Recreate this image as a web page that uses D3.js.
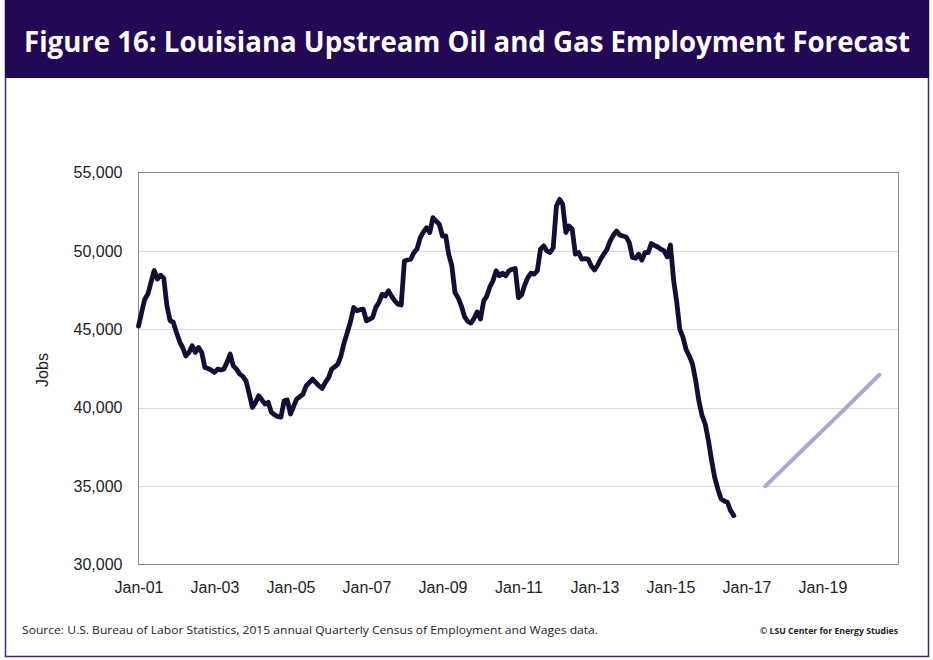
<!DOCTYPE html>
<html>
<head>
<meta charset="utf-8">
<script src="https://cdn.jsdelivr.net/npm/d3@7"></script>
<style>
  body { margin: 0; background: #fff; }
  svg { display: block; }
</style>
</head>
<body>
<script>
// monthly upstream oil & gas jobs, Jan 2001 .. Sep 2016
var firstMonth = "2001-01";
var jobs = [
  45200, 46100, 46900, 47250, 48000, 48750, 48200, 48450, 48250, 46500, 45550, 45450, // 2001
  44800, 44200, 43850, 43300, 43520, 43950, 43520, 43840, 43520, 42570, 42500, 42400, // 2002
  42250, 42460, 42400, 42460, 42880, 43420, 42670, 42460, 42140, 42000, 41700, 40900, // 2003
  40020, 40340, 40760, 40500, 40230, 40340, 39700, 39550, 39430, 39400, 40440, 40500, // 2004
  39600, 40100, 40550, 40700, 40870, 41400, 41600, 41830, 41600, 41400, 41230, 41600, // 2005
  41900, 42460, 42600, 42780, 43310, 44160, 44800, 45500, 46390, 46180, 46250, 46290, // 2006
  45540, 45650, 45750, 46400, 46710, 47240, 47130, 47450, 47100, 46810, 46600, 46550, // 2007
  49360, 49420, 49470, 49890, 50110, 50850, 51200, 51480, 51170, 52120, 51900, 51700, // 2008
  50950, 50950, 49800, 49040, 47340, 47000, 46500, 45800, 45500, 45400, 45700, 46110, // 2009
  45650, 46810, 47100, 47700, 48090, 48730, 48410, 48580, 48410, 48730, 48830, 48880, // 2010
  47020, 47200, 47800, 48300, 48580, 48520, 48730, 50110, 50320, 50000, 49900, 50200, // 2011
  52860, 53290, 52970, 51170, 51590, 51380, 49790, 49890, 49470, 49500, 49470, 49040, // 2012
  48790, 49100, 49470, 49800, 50100, 50640, 51000, 51270, 51020, 50950, 50890, 50530, // 2013
  49580, 49530, 49790, 49410, 49890, 49890, 50470, 50350, 50250, 50110, 50000, 49620, // 2014
  50380, 48100, 46800, 45000, 44500, 43700, 43300, 42780, 41720, 40440, 39490, 38960, // 2015
  37900, 36620, 35560, 34800, 34200, 34050, 33970, 33440, 33120                       // 2016
];

// forecast (straight line in the figure)
var forecastDates = ["2017-07", "2018-07", "2019-07", "2020-07"];
var forecastJobs = [35000, 37350, 39700, 42100];

var yTicks = [30000, 35000, 40000, 45000, 50000, 55000];
var xTickYears = [2001, 2003, 2005, 2007, 2009, 2011, 2013, 2015, 2017, 2019];

var titleText = "Figure 16: Louisiana Upstream Oil and Gas Employment Forecast";
var sourceText = "Source: U.S. Bureau of Labor Statistics, 2015 annual Quarterly Census of Employment and Wages data.";
var creditText = "\u00A9 LSU Center for Energy Studies";

var width = 933, height = 660;
var parseMonth = d3.timeParse("%Y-%m");

var start = parseMonth(firstMonth);
var series = jobs.map(function(v, i) {
  return { date: d3.timeMonth.offset(start, i), value: v };
});
var forecast = forecastDates.map(function(d, i) {
  return { date: parseMonth(d), value: forecastJobs[i] };
});

var svg = d3.select("body").append("svg")
    .attr("width", width)
    .attr("height", height);

// frame + title banner
svg.append("rect")
    .attr("x", 5.5).attr("y", 0.5)
    .attr("width", 923).attr("height", 656)
    .attr("fill", "#fff")
    .attr("stroke", "#3a2a7a")
    .attr("stroke-width", 1.5);

svg.append("rect")
    .attr("x", 5).attr("y", 0)
    .attr("width", 924).attr("height", 78)
    .attr("fill", "#230955");

svg.append("text")
    .attr("x", 467).attr("y", 52)
    .attr("text-anchor", "middle")
    .attr("fill", "#fff")
    .attr("font-family", "'Open Sans', sans-serif")
    .attr("font-weight", "bold")
    .attr("font-size", 28)
    .attr("textLength", 886)
    .attr("lengthAdjust", "spacingAndGlyphs")
    .text(titleText);

// plot area
var plotL = 138.5, plotR = 898.5, plotT = 172.5, plotB = 564.5;

var x = d3.scaleTime()
    .domain([new Date(2001, 0, 1), new Date(2021, 0, 1)])
    .range([plotL, plotR]);

var y = d3.scaleLinear()
    .domain([30000, 55000])
    .range([plotB, plotT]);

// grid lines
svg.append("g")
  .selectAll("line")
  .data(yTicks.slice(1, -1))
  .enter().append("line")
    .attr("x1", plotL).attr("x2", plotR)
    .attr("y1", function(d) { return Math.round(y(d)) + 0.5; })
    .attr("y2", function(d) { return Math.round(y(d)) + 0.5; })
    .attr("stroke", "#d9d9d9")
    .attr("stroke-width", 1);

svg.append("rect")
    .attr("x", plotL).attr("y", plotT)
    .attr("width", plotR - plotL).attr("height", plotB - plotT)
    .attr("fill", "none")
    .attr("stroke", "#8c8c8c")
    .attr("stroke-width", 1);

// axes
var yAxis = d3.axisLeft(y)
    .tickValues(yTicks)
    .tickSize(0)
    .tickPadding(16)
    .tickFormat(d3.format(","));

svg.append("g")
    .attr("transform", "translate(" + plotL + ",0)")
    .call(yAxis)
    .call(function(g) { g.select(".domain").remove(); })
    .selectAll("text")
    .attr("font-family", "'Liberation Sans', Arial, sans-serif")
    .attr("font-size", 16)
    .attr("fill", "#222");

var xAxis = d3.axisBottom(x)
    .tickValues(xTickYears.map(function(yr) { return new Date(yr, 0, 1); }))
    .tickSize(0)
    .tickPadding(17)
    .tickFormat(d3.timeFormat("Jan-%y"));

svg.append("g")
    .attr("transform", "translate(0," + plotB + ")")
    .call(xAxis)
    .call(function(g) { g.select(".domain").remove(); })
    .selectAll("text")
    .attr("font-family", "'Liberation Sans', Arial, sans-serif")
    .attr("font-size", 16)
    .attr("fill", "#222");

svg.append("text")
    .attr("transform", "translate(48,370) rotate(-90)")
    .attr("text-anchor", "middle")
    .attr("font-family", "'Liberation Sans', Arial, sans-serif")
    .attr("font-size", 16)
    .attr("fill", "#222")
    .text("Jobs");

// lines
var line = d3.line()
    .x(function(d) { return x(d.date); })
    .y(function(d) { return y(d.value); });

svg.append("path")
    .datum(series)
    .attr("d", line)
    .attr("fill", "none")
    .attr("stroke", "#160d36")
    .attr("stroke-width", 4.8)
    .attr("stroke-linejoin", "round")
    .attr("stroke-linecap", "round");

svg.append("path")
    .datum(forecast)
    .attr("d", line)
    .attr("fill", "none")
    .attr("stroke", "#b1a4d3")
    .attr("stroke-width", 4)
    .attr("stroke-linecap", "round");

// footer
svg.append("text")
    .attr("x", 22).attr("y", 634)
    .attr("font-family", "'Open Sans', sans-serif")
    .attr("font-size", 11)
    .attr("fill", "#222")
    .attr("textLength", 576)
    .attr("lengthAdjust", "spacingAndGlyphs")
    .text(sourceText);

svg.append("text")
    .attr("x", 760).attr("y", 634)
    .attr("font-family", "'Open Sans', sans-serif")
    .attr("font-weight", "bold")
    .attr("font-size", 8.5)
    .attr("fill", "#222")
    .attr("textLength", 138)
    .attr("lengthAdjust", "spacingAndGlyphs")
    .text(creditText);
</script>
</body>
</html>
